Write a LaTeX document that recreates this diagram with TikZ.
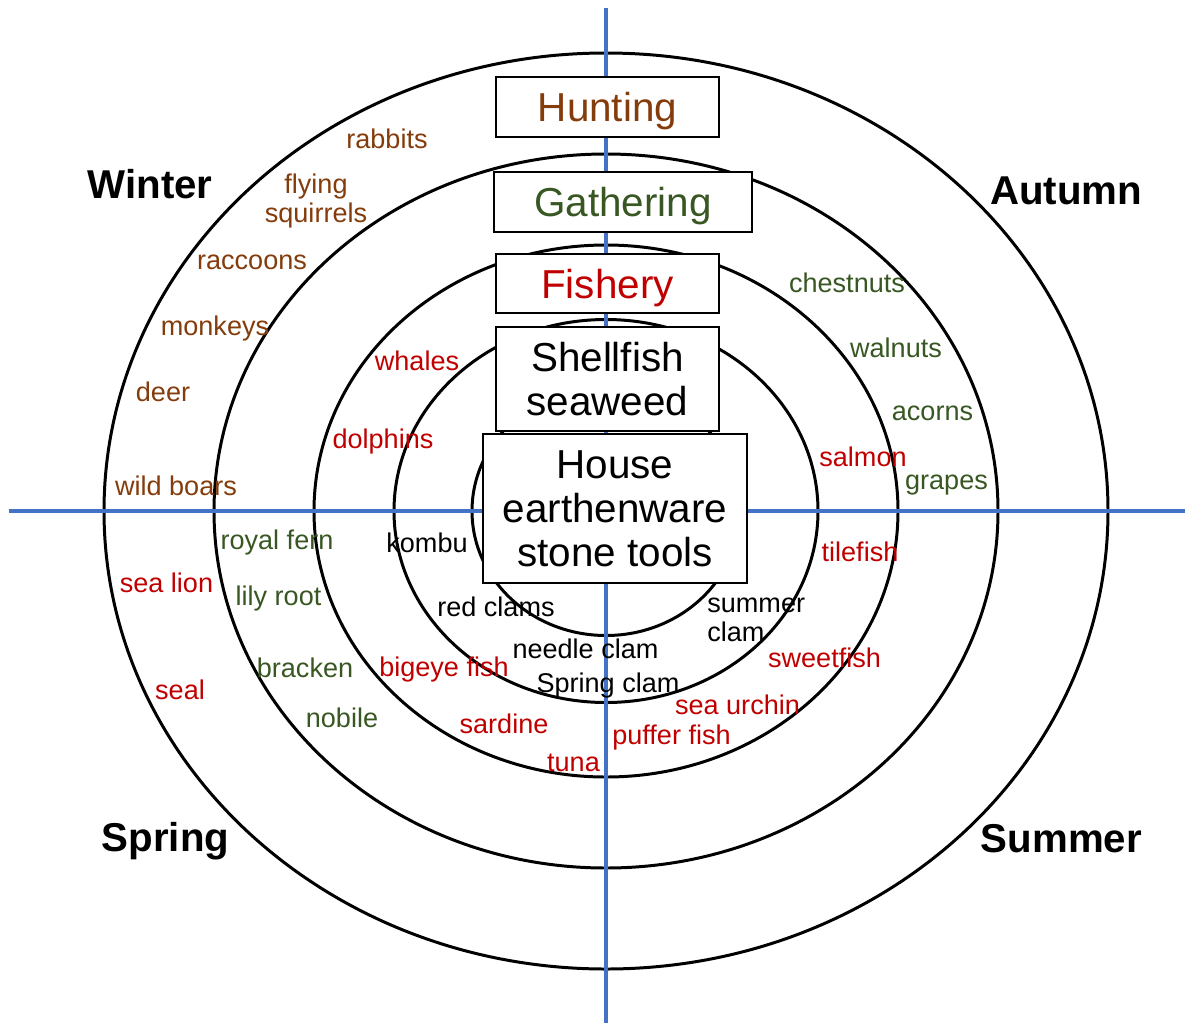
\documentclass[tikz,border=0pt]{standalone}
\usepackage{fontspec}
\setmainfont{Liberation Sans}
\usepackage{tikz}

\definecolor{huntbrown}{HTML}{843C0C}
\definecolor{gathergreen}{HTML}{385723}
\definecolor{fishred}{HTML}{C00000}
\definecolor{axisblue}{HTML}{4472C4}

\begin{document}
\begin{tikzpicture}[scale=0.2]
		\tikzstyle{every node}+=[inner sep=0pt]
		\tikzstyle{ring}=[black, line width=1.7pt]
		\tikzstyle{axis}=[axisblue, line width=2pt]
		\tikzstyle{box}=[draw=black, line width=0.85pt, fill=white, align=center, font=\fontsize{23}{25}\selectfont]
		\tikzstyle{onebox}=[box, text height=20pt, text depth=3pt]
		\tikzstyle{season}=[font=\fontsize{22.9}{25}\selectfont\bfseries]
		\tikzstyle{item}=[align=center, font=\fontsize{15.4}{16.5}\selectfont]
		\tikzstyle{hunt}=[item, text=huntbrown]
		\tikzstyle{gather}=[item, text=gathergreen]
		\tikzstyle{fish}=[item, text=fishred]
		\tikzstyle{shell}=[item, text=black]
		\useasboundingbox (0,0) rectangle (118.5,-102.3);
		% rings
		\draw [ring] (60.6,-51.1) ellipse (50.2 and 45.8);
		\draw [ring] (60.6,-51.1) ellipse (39.2 and 35.7);
		\draw [ring] (60.6,-51.1) ellipse (29.2 and 26.6);
		\draw [ring] (60.6,-51.1) ellipse (21.2 and 19.15);
		\draw [ring] (60.6,-51.1) ellipse (13.4 and 12.45);
		% axes
		\coordinate (N) at (60.6,-0.8);
		\coordinate (S) at (60.6,-102.3);
		\coordinate (W) at (0.9,-51.1);
		\coordinate (E) at (118.5,-51.1);
		\draw [axis] (N) -- (S);
		\draw [axis] (W) -- (E);
		% boxes
		\node [onebox, text=huntbrown, minimum width=126.9pt, minimum height=34.1pt] (hunting) at (60.75,-10.7) {Hunting};
		\node [onebox, text=gathergreen, minimum width=146.8pt, minimum height=34.1pt] (gathering) at (62.3,-20.2) {Gathering};
		\node [onebox, text=fishred, minimum width=126.9pt, minimum height=33.6pt] (fishery) at (60.75,-28.35) {Fishery};
		\node [box, minimum width=126.9pt, minimum height=59.2pt] (shellfish) at (60.75,-37.9) {Shellfish\\seaweed};
		\node [box, minimum width=150.2pt, minimum height=84.8pt] (house) at (61.5,-50.85) {House\\earthenware\\stone tools};
		% seasons
		\node [season] (winter) at (15.0,-18.4) {Winter};
		\node [season] (autumn) at (106.6,-19.05) {Autumn};
		\node [season] (spring) at (16.55,-84.15) {Spring};
		\node [season] (summer) at (106.15,-83.85) {Summer};
		% hunting
		\node [hunt] (rabbits) at (38.7,-13.9) {rabbits};
		\node [hunt] (squirrels) at (31.6,-20.1) {flying\\squirrels};
		\node [hunt] (raccoons) at (25.2,-26.2) {raccoons};
		\node [hunt] (monkeys) at (21.5,-32.8) {monkeys};
		\node [hunt] (deer) at (16.3,-39.2) {deer};
		\node [hunt] (boars) at (17.6,-48.6) {wild boars};
		% gathering
		\node [gather] (chestnuts) at (84.7,-28.3) {chestnuts};
		\node [gather] (walnuts) at (89.6,-34.8) {walnuts};
		\node [gather] (acorns) at (93.25,-41.3) {acorns};
		\node [gather] (grapes) at (94.65,-48.5) {grapes};
		\node [gather] (fern) at (27.7,-54.2) {royal fern};
		\node [gather] (lily) at (27.85,-59.8) {lily root};
		\node [gather] (bracken) at (30.5,-66.8) {bracken};
		\node [gather] (nobile) at (34.2,-71.8) {nobile};
		% fishery
		\node [fish] (whales) at (41.7,-36.1) {whales};
		\node [fish] (dolphins) at (38.3,-44.1) {dolphins};
		\node [fish] (salmon) at (86.3,-45.7) {salmon};
		\node [fish] (tilefish) at (86.0,-55.2) {tilefish};
		\node [fish] (sweetfish) at (82.45,-65.8) {sweetfish};
		\node [fish] (urchin) at (73.75,-70.5) {sea urchin};
		\node [fish] (puffer) at (67.15,-73.7) {puffer fish};
		\node [fish] (tuna) at (57.35,-76.3) {tuna};
		\node [fish] (sardine) at (50.4,-72.4) {sardine};
		\node [fish] (bigeye) at (44.4,-66.9) {bigeye fish};
		\node [fish] (sealion) at (16.65,-58.3) {sea lion};
		\node [fish] (seal) at (18.0,-69.0) {seal};
		% shellfish
		\node [shell] (kombu) at (42.7,-54.3) {kombu};
		\node [shell] (redclams) at (49.6,-60.7) {red clams};
		\node [shell] (needle) at (58.55,-64.9) {needle clam};
		\node [shell] (springclam) at (60.8,-68.5) {Spring clam};
		\node [shell, align=left, anchor=west] (summerclam) at (70.7,-61.95) {summer\\clam};
	\end{tikzpicture}
\end{document}
